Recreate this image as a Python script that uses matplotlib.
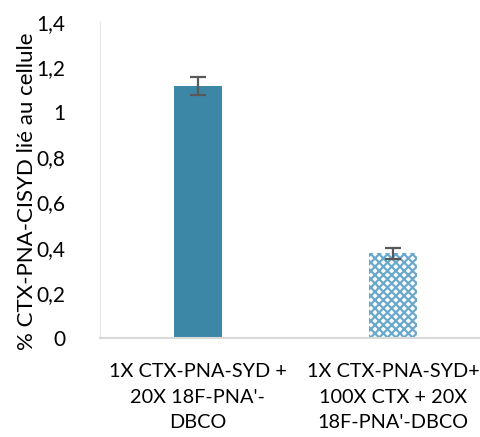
import matplotlib.pyplot as plt

categories = ["1X CTX-PNA-SYD +\n20X 18F-PNA'-\nDBCO",
              "1X CTX-PNA-SYD+\n100X CTX + 20X\n18F-PNA'-DBCO"]
values = [1.115, 0.375]
errors = [0.04, 0.025]
yticks = [0, 0.2, 0.4, 0.6, 0.8, 1.0, 1.2, 1.4]
ytick_labels = ["0", "0,2", "0,4", "0,6", "0,8", "1", "1,2", "1,4"]

plt.rcParams['font.family'] = ['Lato', 'DejaVu Sans']
plt.rcParams['hatch.linewidth'] = 1.6

fig = plt.figure(figsize=(4.8, 4.37), dpi=100)
ax = fig.add_axes([100 / 480, (437 - 338) / 437, 391 / 480, 316 / 437])

x = [0, 1]
bars = ax.bar(x, values, width=0.245, color=["#3d87a6", "white"],
              edgecolor="none", zorder=2)
bars[1].set_hatch("xxxx")
bars[1].set_edgecolor("#6aa8cc")
bars[1].set_linewidth(0)
ax.errorbar(x, values, yerr=errors, fmt="none", ecolor="#595959",
            elinewidth=1.6, capsize=6, capthick=1.6, zorder=3)

ax.set_xlim(-0.5, 1.5)
ax.set_ylim(0, 1.4)
ax.set_yticks(yticks)
ax.set_yticklabels(ytick_labels)
ax.set_xticks(x)
ax.set_xticklabels(categories, linespacing=1.62)
ax.tick_params(axis="y", length=0, pad=25, labelsize=15)
ax.tick_params(axis="x", length=0, pad=18, labelsize=14.3)
ax.set_ylabel("% CTX-PNA-CISYD lié au cellule", fontsize=16)
ax.yaxis.set_label_coords(-0.162, 0.465)

for side in ["top", "right"]:
    ax.spines[side].set_visible(False)
ax.spines["bottom"].set_color("#d9d9d9")
ax.spines["bottom"].set_linewidth(1.5)
ax.spines["left"].set_color("#e6e6e6")
ax.spines["left"].set_linewidth(0.8)

fig.savefig("out.png", dpi=100)
